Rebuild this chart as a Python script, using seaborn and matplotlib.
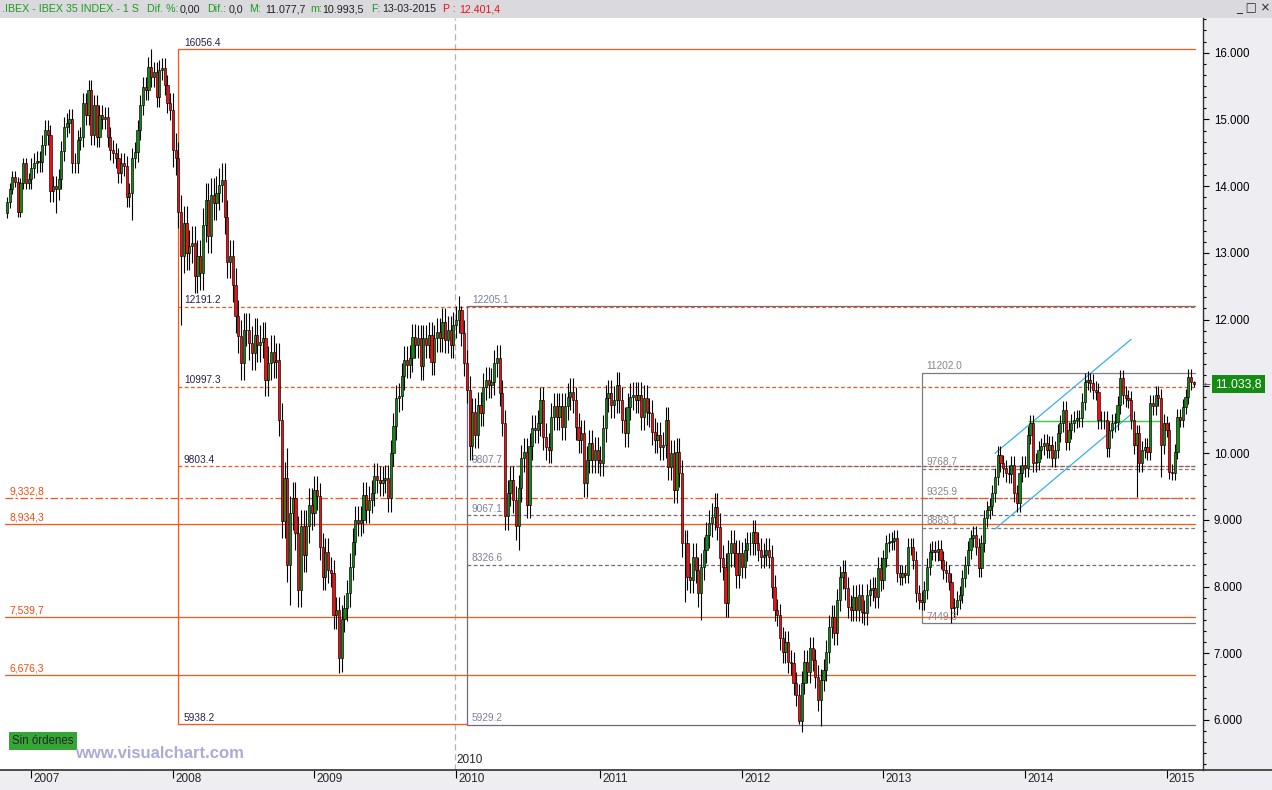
import numpy as np
import pandas as pd
import matplotlib
matplotlib.use("Agg")
import matplotlib.pyplot as plt
import matplotlib.transforms as mtrans
from matplotlib.lines import Line2D
from matplotlib.patches import Rectangle
from matplotlib.ticker import MultipleLocator, FuncFormatter
import seaborn as sns

# IBEX 35 - velas semanales (cierre del viernes)
weeks = pd.date_range("2006-11-03", "2015-03-13", freq="W-FRI")
first_open = 13600

close_2006 = [13760, 13960, 14140, 14060, 13620, 14040, 14340, 14040, 14110]
close_2007 = [14270, 14340, 14370, 14360, 14620, 14840, 14760, 13920, 14000, 13950,
              14100, 14520, 14890, 14940, 15000, 14340, 14350, 14690, 14730, 15240,
              15060, 15440, 14770, 15215, 14740, 15065, 15000, 15040, 14740, 14540,
              14490, 14420, 14190, 14340, 14300, 13840, 13900, 14415, 14515, 14840,
              15215, 15490, 15440, 15790, 15640, 15715, 15340, 15740, 15765, 15515,
              15240, 15140]
close_2008 = [14540, 14415, 13620, 12950, 13450, 13000, 13100, 13150, 12650, 12950,
              12700, 13420, 13790, 13250, 13870, 13750, 13900, 14020, 14090, 13540,
              12870, 12950, 12520, 12050, 11750, 11350, 11850, 11850, 11650, 11500,
              11770, 11620, 11670, 11720, 11100, 11350, 11520, 11370, 11400, 10500,
              8980, 9620, 8320, 9100, 9320, 8800, 7950, 8900, 8470, 8900,
              9220, 9100]
close_2009 = [9450, 9350, 8600, 8150, 8520, 8250, 8200, 7570, 7650, 6925,
              7520, 7680, 7900, 8300, 8670, 9000, 8950, 9000, 9370, 9150,
              9300, 9400, 9650, 9600, 9550, 9600, 9620, 9320, 10000, 10400,
              10820, 10850, 11150, 11400, 11320, 11420, 11735, 11620, 11720, 11300,
              11720, 11620, 11770, 11370, 11720, 11820, 11720, 11970, 11700, 11850,
              11620, 11920]
close_2010 = [12000, 12150, 11800, 11350, 10950, 10100, 10620, 10270, 10720, 10600,
              10996, 11094, 11020, 11070, 11345, 11420, 10900, 10450, 9050, 9400,
              9600, 9300, 8900, 9470, 9920, 10020, 9220, 10100, 10370, 10350,
              10450, 10796, 10246, 10097, 10050, 10546, 10700, 10546, 10700, 10397,
              10700, 10846, 10920, 10796, 10397, 10197, 10300, 9547, 9900, 10147,
              9900, 10040, 9900]
close_2011 = [9850, 10372, 10821, 10900, 10720, 10800, 11020, 10796, 10496, 10297,
              10696, 10846, 10870, 10796, 10870, 10546, 10820, 10620, 10596, 10321,
              10197, 10270, 10097, 10122, 10496, 9797, 10000, 9447, 10022, 9697,
              8648, 8650, 8148, 8100, 8450, 8250, 7899, 8298, 8548, 8773,
              8948, 9048, 9197, 8898, 8423, 8298, 7749, 8498, 8648, 8500,
              8175, 8500]
close_2012 = [8300, 8550, 8648, 8650, 8823, 8648, 8550, 8450, 8480, 8550,
              8450, 7998, 7649, 7574, 7224, 7024, 7170, 6874, 6850, 6550,
              6375, 5990, 6560, 6874, 6720, 7074, 6900, 6650, 6300, 6600,
              6750, 7024, 7399, 7549, 7300, 7798, 8138, 8223, 7973, 7698,
              7650, 7850, 7650, 7870, 7624, 7600, 7873, 7950, 7973, 7850,
              8273, 8100]
close_2013 = [8423, 8648, 8673, 8680, 8722, 8198, 8150, 8200, 8180, 8598,
              8600, 8400, 7898, 7800, 7774, 7950, 8298, 8523, 8550, 8520,
              8560, 8400, 8248, 8200, 8073, 7673, 7700, 7800, 7880, 8123,
              8323, 8547, 8722, 8770, 8600, 8273, 8647, 9022, 9147, 9200,
              9397, 9647, 9971, 9847, 9772, 9697, 9680, 9822, 9397, 9250,
              9697, 9822]
close_2014 = [9770, 10271, 10446, 9846, 9870, 10046, 10100, 10150, 10050, 10122,
              9920, 10050, 10300, 10446, 10646, 10171, 10340, 10450, 10500, 10520,
              10520, 10771, 11070, 11100, 11050, 10946, 10920, 10496, 10500, 10496,
              10071, 10350, 10450, 10470, 10721, 11120, 10870, 10820, 10800, 10496,
              10122, 10296, 9847, 10050, 10097, 10021, 10746, 10700, 10871, 10830,
              10121, 10450]
close_2015 = [10350, 9722, 9700, 10022, 10546, 10500, 10696, 10846, 11145, 11060,
              11033.8]

closes = (close_2006 + close_2007 + close_2008 + close_2009 + close_2010
          + close_2011 + close_2012 + close_2013 + close_2014 + close_2015)
assert len(closes) == len(weeks), (len(closes), len(weeks))

# mecha tipica por año (puntos) y mechas destacadas (maximo, minimo)
wick_by_year = {2006: 80, 2007: 150, 2008: 250, 2009: 200, 2010: 200,
                2011: 200, 2012: 170, 2013: 130, 2014: 130, 2015: 110}
spikes = {
    "2007-03-09": (None, 13600),
    "2007-09-21": (None, 13490),
    "2007-11-09": (16056.4, None),
    "2008-01-25": (None, 11920),
    "2008-10-24": (10070, None),
    "2008-10-31": (None, 7724),
    "2008-11-21": (None, 7700),
    "2009-03-06": (None, 6702),
    "2010-01-15": (12205.1, None),
    "2010-06-11": (None, 8550),
    "2011-08-12": (None, 7774),
    "2011-09-23": (None, 7500),
    "2012-06-01": (None, 5940),
    "2012-07-27": (None, 5905),
    "2013-06-28": (None, 7449.3),
    "2014-06-20": (11202.0, None),
    "2014-10-17": (None, 9347),
    "2014-12-19": (None, 9647),
    "2015-01-16": (None, 9600),
    "2015-03-13": (11077.7, 10993.5),
}

# retrocesos de Fibonacci
fib1_start = "2008-01-18"
fib1_levels = [16056.4, 12191.2, 10997.3, 9803.4, 5938.2]
fib2_start = "2010-01-29"
fib2_levels = [12205.1, 9807.7, 9067.1, 8326.6, 5929.2]
fib3_start = "2013-04-12"
fib3_levels = [11202.0, 9768.7, 9325.9, 8883.1, 7449.3]

# lineas horizontales a todo lo ancho
wide_levels = [9332.8, 8934.3, 7539.7, 6676.3]

# canal alcista (azul) y linea verde
channel_dates = ["2013-10-18", "2014-10-03"]
channel_upper = [9997, 11705]
channel_lower = [8862, 10581]
green_dates = ["2014-01-10", "2014-12-19"]
green_level = 10481

# cabecera: (x en px, texto, color)
header = [
    (2, ".IBEX - IBEX 35 INDEX - 1 S", "#1E9A1E"),
    (147, "Dif. %:", "#1E9A1E"), (180, "0,00", "#202020"),
    (207, "Dif.:", "#1E9A1E"), (229, "0,0", "#202020"),
    (249, "M:", "#1E9A1E"), (265, "11.077,7", "#202020"),
    (310, "m:", "#1E9A1E"), (322, "10.993,5", "#202020"),
    (371, "F:", "#1E9A1E"), (382, "13-03-2015", "#202020"),
    (443, "P :", "#E8101A"), (459, "12.401,4", "#E8101A"),
]

# ---------------------------------------------------------------
df = pd.DataFrame({"close": closes}, index=weeks)
df["open"] = df["close"].shift(1).fillna(first_open)
wick = np.array([wick_by_year[y] for y in df.index.year])
df["high"] = df[["open", "close"]].max(axis=1) + wick
df["low"] = df[["open", "close"]].min(axis=1) - wick
for d, (hi, lo) in spikes.items():
    if hi is not None:
        df.loc[pd.Timestamp(d), "high"] = hi
    if lo is not None:
        df.loc[pd.Timestamp(d), "low"] = lo
df["x"] = np.arange(len(df))


def pos(d):
    return weeks.get_loc(pd.Timestamp(d))


W, H = 1272, 790
sns.set_theme(style="white")
plt.rcParams["font.family"] = ["Liberation Sans", "DejaVu Sans"]

fig = plt.figure(figsize=(W / 100, H / 100), dpi=100)
fig.patch.set_facecolor("#EDEDF2")
fig.add_artist(Rectangle((0, 1 - 18 / H), 1, 18 / H, transform=fig.transFigure,
                         facecolor="#DADADE", edgecolor="none", zorder=0))
ax = fig.add_axes([0, 20 / H, 1203 / W, 752 / H])
ax.set_facecolor("white")

orange = "#FF5512"
grey = "#6F6A7C"
n = len(df)
x_end = n - 0.4
x_left = -0.7
last = df["close"].iloc[-1]

# velas
up = df["close"] >= df["open"]
ax.vlines(df["x"], df["low"], df["high"], color="black", lw=0.8, zorder=3)
ax.bar(df["x"][up], (df["close"] - df["open"])[up], bottom=df["open"][up], width=0.8,
       color="#118C11", edgecolor="black", linewidth=0.45, zorder=4)
ax.bar(df["x"][~up], (df["open"] - df["close"])[~up], bottom=df["close"][~up], width=0.8,
       color="#FF0A0A", edgecolor="black", linewidth=0.45, zorder=4)


def fib(start, levels, color, label_color, dx, bottom_end=None):
    i0 = pos(start)
    ax.vlines(i0, levels[-1], levels[0], color=color, lw=0.9, zorder=2)
    for k, lev in enumerate(levels):
        kw = {} if k in (0, len(levels) - 1) else {"dashes": (3, 2)}
        x1 = bottom_end if (k == len(levels) - 1 and bottom_end is not None) else x_end
        ax.plot([i0, x1], [lev, lev], color=color, lw=0.9, zorder=2, **kw)
        ax.annotate(f"{lev:.1f}", (i0, lev), xytext=(dx, 1), textcoords="offset points",
                    fontsize=7.3, color=label_color, va="bottom", zorder=6)


fib(fib1_start, fib1_levels, orange, "#2A1F50", 4, bottom_end=pos(fib2_start))
fib(fib2_start, fib2_levels, grey, "#7A7F9E", 3.5)
fib(fib3_start, fib3_levels, "#7C7C84", "#86868F", 3.3)

for k, lev in enumerate(wide_levels):
    kw = {"dashes": (6, 2, 2, 2)} if k == 0 else {}
    ax.plot([x_left, x_end], [lev, lev], color=orange, lw=0.9, zorder=2, **kw)
    ax.annotate(f"{lev:,.1f}".replace(".", ","), (x_left, lev), xytext=(3.5, 1),
                textcoords="offset points", fontsize=7.5, color="#F04A10", va="bottom", zorder=6)

chan = pd.DataFrame({
    "x": [pos(d) for d in channel_dates] * 2,
    "y": channel_upper + channel_lower,
    "linea": ["sup", "sup", "inf", "inf"],
})
sns.lineplot(data=chan, x="x", y="y", units="linea", estimator=None, color="#35B0F0",
             lw=0.9, ax=ax, zorder=2, legend=False)
ax.hlines(green_level, pos(green_dates[0]), pos(green_dates[1]), color="#3CC83C", lw=1, zorder=2)

# separador de 2010
year_first = pd.Series(np.arange(n), index=weeks).groupby(weeks.year).first()
i2010 = year_first[2010]
ax.axvline(i2010 - 0.5, color="#B4B4B4", lw=0.9, dashes=(5, 3), zorder=1)
bx = mtrans.blended_transform_factory(ax.transData, ax.transAxes)
ax.text(i2010 + 0.2, 0.0133, "2010", transform=bx, fontsize=8.5, va="center", ha="left")

# eje x: años
ax.set_xlim(-2.53, 439.4)
ax.set_ylim(5250.7, 16520)
ax.set_xlabel("")
ax.set_ylabel("")
yrs = year_first[year_first.index >= 2007]
ax.set_xticks(yrs.values)
ax.set_xticklabels([])
ax.tick_params(axis="x", bottom=True, direction="out", length=5.5, width=0.8, color="black")
for yr, i in yrs.items():
    ax.text(i + 0.8, -0.012, str(yr), transform=bx, fontsize=8.5, va="center", ha="left",
            clip_on=False)


# eje y a la derecha (la etiqueta tapada por el precio no se ve)
def fmt(v, p):
    if abs(v - last) < 300:
        return ""
    return f"{v / 1000:.3f}"


ax.yaxis.tick_right()
ax.yaxis.set_major_locator(MultipleLocator(1000))
ax.yaxis.set_minor_locator(MultipleLocator(1000 / 6))
ax.yaxis.set_major_formatter(FuncFormatter(fmt))
ax.tick_params(axis="y", which="major", right=True, left=False, direction="out",
               length=4.3, width=0.8, pad=3.5, labelsize=8.3, colors="black")
ax.tick_params(axis="y", which="minor", right=True, left=False, direction="out",
               length=2.3, width=0.8, colors="black")

for s in ["left", "top", "bottom"]:
    ax.spines[s].set_visible(False)
ax.spines["right"].set_color("#303030")
ax.spines["right"].set_linewidth(1)
fig.add_artist(Line2D([0, 1], [20 / H, 20 / H], transform=fig.transFigure, color="#303030", lw=1.2))

# ultimo precio
by = mtrans.blended_transform_factory(ax.transAxes, ax.transData)
ax.text(1 + 12 / 1203, last, f"{last:,.1f}".translate(str.maketrans(",.", ".,")),
        transform=by, color="white", fontsize=8.7, va="center", ha="left", clip_on=False,
        zorder=7, bbox=dict(boxstyle="square,pad=0.25", facecolor="#148C14", edgecolor="none"))
ax.text(1 + 0.5 / 1203, last, "←", transform=by, color="#404040", fontsize=6,
        va="center", ha="left", clip_on=False, family="DejaVu Sans")

# cabecera y marcas
for x_px, txt, col in header:
    fig.text(x_px / W, 1 - 9 / H, txt, color=col, fontsize=7.7, va="center", ha="left")
fig.text(1236 / W, 1 - 8 / H, "_ □ ×", fontsize=8.5, va="center", ha="left", family="DejaVu Sans")
fig.text(12 / W, 1 - 741 / H, "Sin órdenes", fontsize=8.3, va="center", ha="left",
         bbox=dict(boxstyle="square,pad=0.3", facecolor="#33A633", edgecolor="none"))
fig.text(75 / W, 1 - 754 / H, "www.visualchart.com", fontsize=12, weight="bold",
         color="#ABABD8", va="center", ha="left")

fig.savefig("out.png", dpi=100)
